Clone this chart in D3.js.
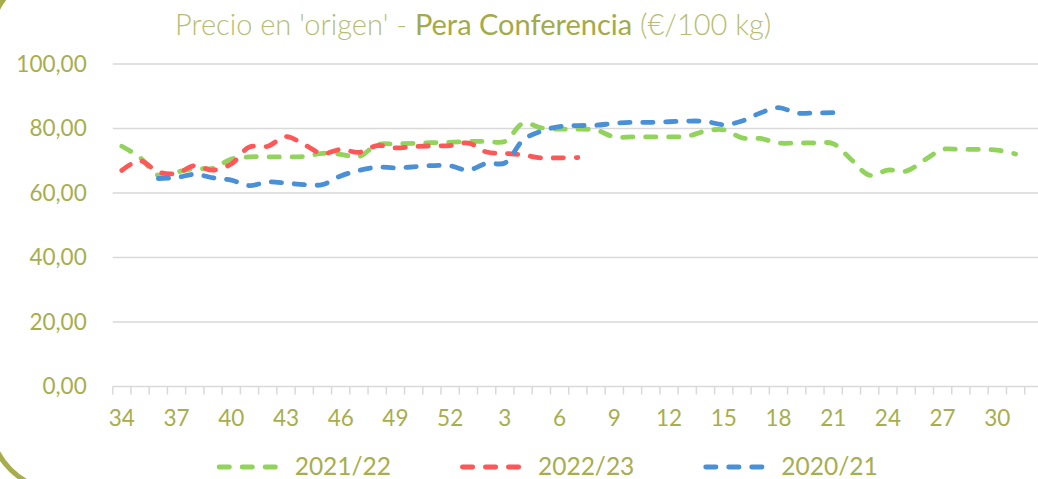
<!DOCTYPE html>
<html lang="es">
<head>
<meta charset="UTF-8">
<title>Precio en origen - Pera Conferencia</title>
<script src="https://cdnjs.cloudflare.com/ajax/libs/d3/7.8.5/d3.min.js"></script>
<style>
    body { margin: 0; background: #fff; }
    svg { display: block; font-family: Lato, "Open Sans", sans-serif; }
</style>
</head>
<body>
<svg id="chart" width="1038" height="479"></svg>
<script>
    // weeks of the campaign (34 -> 52, then 1 -> 32)
    var weeks = ['34','35','36','37','38','39','40','41','42','43','44','45','46','47','48','49','50','51','52',
        '1','2','3','4','5','6','7','8','9','10','11','12','13','14','15','16','17','18','19','20','21',
        '22','23','24','25','26','27','28','29','30','31','32'];

    // €/100 kg, null = no data
    var s2122 = [74.5, 71, 65.5, 66.5, 67.5, 67.7, 70.5, 71.2, 71.2, 71.2, 71.3, 72.3, 72, 71.3, 75, 75.2, 75.4, 75.6, 75.7,
        76, 76, 76, 81.6, 80.2, 79.8, 79.8, 79.5, 77.4, 77.4, 77.4, 77.4, 77.6, 79.2, 79.6, 77.1, 76.9, 75.5, 75.5, 75.5, 75.3,
        70.3, 65.5, 67.1, 66.8, 70.2, 73.5, 73.5, 73.5, 73.3, 72.1, null];
    var s2223 = [67, 70, 66.5, 66.1, 68.5, 67.1, 69, 74.3, 74.5, 77.5, 75, 72.2, 73.5, 72.6, 74.7, 74, 74.4, 74.6, 74.7,
        75.5, 72.7, 72.3, 71.8, 70.9, 70.9, 71];
    var s2021 = [null, null, 64.5, 64.8, 65.8, 64.7, 64, 62.3, 63.4, 63.1, 62.6, 62.6, 65.3, 67, 68, 67.8, 68.1, 68.5, 68.4,
        67.1, 69.2, 69.3, 76.4, 79.2, 80.6, 80.9, 81, 81.6, 81.9, 81.9, 82.1, 82.3, 82.2, 81.2, 82.3, 84.8, 86.5, 84.8, 84.8, 84.9];

    var yTicks = [0, 20, 40, 60, 80, 100];
    var xLabelEvery = 3;

    var series = [
        { name: '2021/22', values: s2122, color: '#92d35c' },
        { name: '2022/23', values: s2223, color: '#ff5757' },
        { name: '2020/21', values: s2021, color: '#4a90d6' }
    ];

    var olive = '#a6ae4e';
    var svg = d3.select('#chart');

    var left = 112.7, band = 18.24;
    var x = d3.scaleBand().domain(weeks).range([left, left + band * weeks.length]);
    var y = d3.scaleLinear().domain([0, 100]).range([386.5, 64]);

    // corner of the rounded frame around the chart
    svg.append('rect')
        .attr('x', -10).attr('y', -29)
        .attr('width', 1200).attr('height', 519)
        .attr('rx', 70).attr('ry', 70)
        .attr('fill', 'none')
        .attr('stroke', '#a7ad4c')
        .attr('stroke-width', 5);

    // gridlines
    svg.append('g').selectAll('line')
        .data(yTicks)
        .join('line')
        .attr('x1', left).attr('x2', x.range()[1])
        .attr('y1', d => y(d)).attr('y2', d => y(d))
        .attr('stroke', '#d9d9d9')
        .attr('stroke-width', 1.5);

    // tick marks between categories
    svg.append('g').selectAll('line')
        .data(weeks.concat(['end']))
        .join('line')
        .attr('x1', (d, i) => left + i * band).attr('x2', (d, i) => left + i * band)
        .attr('y1', y(0)).attr('y2', y(0) + 8)
        .attr('stroke', '#d9d9d9')
        .attr('stroke-width', 1.5);

    // y axis
    var yAxis = d3.axisLeft(y)
        .tickValues(yTicks)
        .tickSize(0)
        .tickPadding(26)
        .tickFormat(d => d3.format('.2f')(d).replace('.', ','));

    svg.append('g')
        .attr('transform', 'translate(' + left + ',0)')
        .call(yAxis)
        .call(g => g.select('.domain').remove())
        .selectAll('text')
        .attr('fill', olive)
        .attr('font-size', 22.5)
        .attr('font-family', 'Lato');

    // x axis
    var xAxis = d3.axisBottom(x)
        .tickValues(weeks.filter((d, i) => i % xLabelEvery === 0))
        .tickSize(0)
        .tickPadding(24);

    svg.append('g')
        .attr('transform', 'translate(0,' + y(0) + ')')
        .call(xAxis)
        .call(g => g.select('.domain').remove())
        .selectAll('text')
        .attr('fill', olive)
        .attr('font-size', 22.5)
        .attr('font-family', 'Lato');

    // lines
    var line = d3.line()
        .defined(d => d.v != null)
        .x(d => x(d.w) + x.bandwidth() / 2)
        .y(d => y(d.v))
        .curve(d3.curveCatmullRom.alpha(0.5));

    series.forEach(function (s) {
        var pts = weeks.map((w, i) => ({ w: w, v: i < s.values.length ? s.values[i] : null }));
        svg.append('path')
            .datum(pts)
            .attr('d', line)
            .attr('fill', 'none')
            .attr('stroke', s.color)
            .attr('stroke-width', 4.8)
            .attr('stroke-linecap', 'round')
            .attr('stroke-linejoin', 'round')
            .attr('stroke-dasharray', '10.3,12.7');
    });

    // title
    var title = svg.append('text')
        .attr('x', 175).attr('y', 35)
        .attr('font-size', 29)
        .attr('font-family', 'Lato');
    title.append('tspan').text("Precio en 'origen' - ").attr('fill', '#b6bd72').attr('font-weight', 300);
    title.append('tspan').text('Pera Conferencia').attr('fill', '#a3ab48').attr('font-weight', 400);
    title.append('tspan').text(' (€/100 kg)').attr('fill', '#b6bd72').attr('font-weight', 300);

    // legend
    var legendX = [216.7, 460, 703.3];
    var legend = svg.append('g').selectAll('g')
        .data(series)
        .join('g')
        .attr('transform', (d, i) => 'translate(' + legendX[i] + ',467)');

    legend.append('line')
        .attr('x1', 2.4).attr('x2', 63)
        .attr('y1', 0).attr('y2', 0)
        .attr('stroke', d => d.color)
        .attr('stroke-width', 4.8)
        .attr('stroke-linecap', 'round')
        .attr('stroke-dasharray', '10.3,12.7');

    legend.append('text')
        .attr('x', 78).attr('y', 8)
        .attr('fill', olive)
        .attr('font-size', 24.5)
        .attr('font-family', 'Lato')
        .text(d => d.name);
</script>
</body>
</html>
